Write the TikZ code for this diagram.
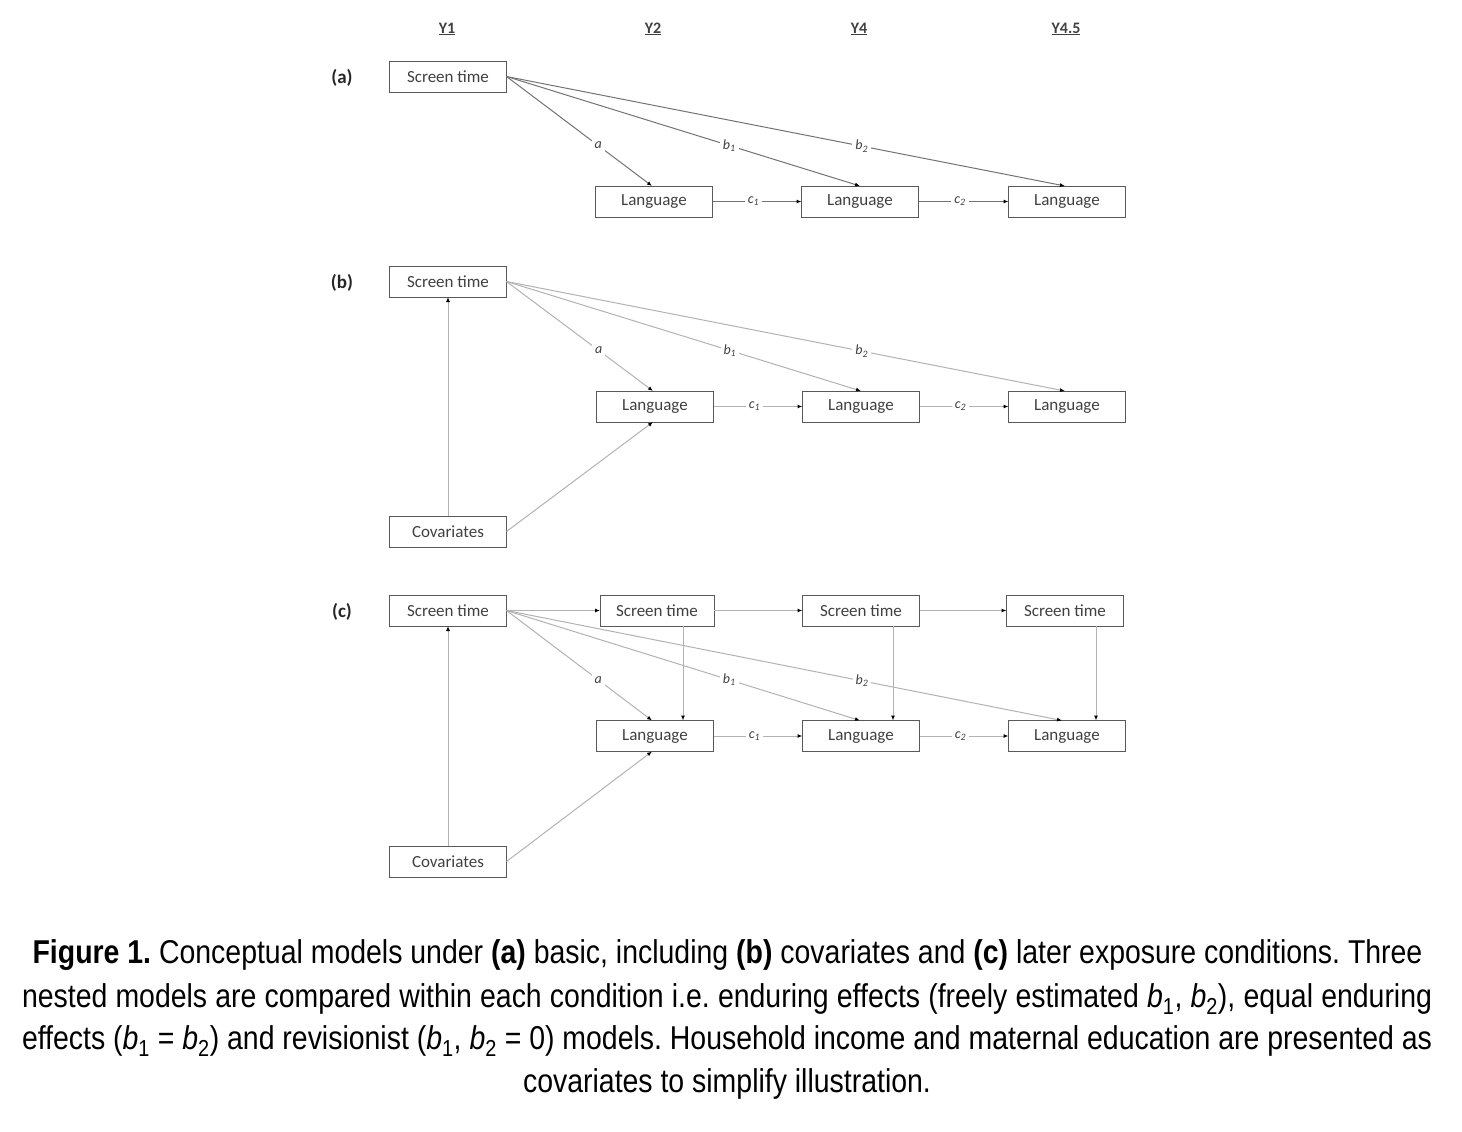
\documentclass[tikz,border=0pt]{standalone}
\usepackage{fontspec}
\setmainfont{Carlito}
\newfontfamily\capfont[FakeStretch=0.862]{Liberation Sans}
\usetikzlibrary{arrows.meta,calc}
\begin{document}
\frenchspacing
\begin{tikzpicture}[x=1pt,y=-1pt,
  box/.style={draw=black!65,line width=0.9pt,minimum width=117pt,minimum height=31pt,inner sep=0pt,outer sep=0pt,font=\fontsize{17}{19}\selectfont,text=black!75},
  arrA/.style={draw=black!55,line width=1pt,-{Latex[length=5pt,width=4pt,color=black]}},
  arrB/.style={draw=black!30,line width=1pt,-{Latex[length=5pt,width=4pt,color=black]}},
  lab/.style={fill=white,inner sep=3pt,font=\fontsize{14}{16}\selectfont\itshape,text=black!75},
  hdr/.style={font=\fontsize{16}{18}\selectfont\bfseries,text=black!75},
  plab/.style={font=\fontsize{19}{21}\selectfont\bfseries,text=black!85},
  capline/.style={anchor=base,inner sep=0pt,font=\capfont\fontsize{33}{38}\selectfont}
]
\useasboundingbox (0,0) rectangle (1462,1132);
% header
\node[hdr] (y1) at (447,29) {\underline{Y1}};
\node[hdr] (y2) at (653,29) {\underline{Y2}};
\node[hdr] (y4) at (859,29) {\underline{Y4}};
\node[hdr] (y45) at (1066,29) {\underline{Y4.5}};
% panel labels
\node[plab] (pa) at (342,78) {(a)};
\node[plab] (pb) at (342,283) {(b)};
\node[plab] (pc) at (342,612) {(c)};
% ---------- panel a
\node[box] (Sa) at (448,76.5) {Screen time};
\node[box] (La1) at (654,201.5) {Language};
\node[box] (La2) at (860,201.5) {Language};
\node[box] (La3) at (1067,201.5) {Language};
\draw[arrA] (Sa.east) -- node[lab,pos=0.63] (la) {a} ([xshift=-2pt]La1.north);
\draw[arrA] (Sa.east) -- node[lab,pos=0.63] (lb1) {b\textsubscript{1}} (La2.north);
\draw[arrA] (Sa.east) -- node[lab,pos=0.636] (lb2) {b\textsubscript{2}} ([xshift=-2pt]La3.north);
\draw[arrA] (La1.east) -- node[lab,pos=0.46] (lc1) {c\textsubscript{1}} (La2.west);
\draw[arrA] (La2.east) -- node[lab,pos=0.46] (lc2) {c\textsubscript{2}} (La3.west);
% ---------- panel b
\node[box] (Sb) at (448,281.5) {Screen time};
\node[box] (Lb1) at (655,406.5) {Language};
\node[box] (Lb2) at (861,406.5) {Language};
\node[box] (Lb3) at (1067,406.5) {Language};
\node[box] (Cb) at (448,531.5) {Covariates};
\draw[arrB] (Sb.east) -- node[lab,pos=0.63] (lba) {a} ([xshift=-2pt]Lb1.north);
\draw[arrB] (Sb.east) -- node[lab,pos=0.63] (lbb1) {b\textsubscript{1}} (Lb2.north);
\draw[arrB] (Sb.east) -- node[lab,pos=0.636] (lbb2) {b\textsubscript{2}} ([xshift=-2pt]Lb3.north);
\draw[arrB] (Lb1.east) -- node[lab,pos=0.46] (lbc1) {c\textsubscript{1}} (Lb2.west);
\draw[arrB] (Lb2.east) -- node[lab,pos=0.46] (lbc2) {c\textsubscript{2}} (Lb3.west);
\draw[arrB] (Cb.north) -- (Sb.south);
\draw[arrB] (Cb.east) -- ([xshift=-2pt]Lb1.south);
% ---------- panel c
\node[box] (Sc1) at (448,610.5) {Screen time};
\node[box,minimum width=114pt] (Sc2) at (657,610.5) {Screen time};
\node[box] (Sc3) at (861,610.5) {Screen time};
\node[box] (Sc4) at (1065,610.5) {Screen time};
\node[box] (Lc1) at (655,736) {Language};
\node[box] (Lc2) at (861,736) {Language};
\node[box] (Lc3) at (1067,736) {Language};
\node[box] (Cc) at (448,861.5) {Covariates};
\draw[arrB] (Sc1.east) -- (Sc2.west);
\draw[arrB] (Sc2.east) -- (Sc3.west);
\draw[arrB] (Sc3.east) -- (Sc4.west);
\draw[arrB] ([xshift=26pt]Sc2.south) -- ([xshift=26pt]Sc2.south |- Lc1.north);
\draw[arrB] ([xshift=32pt]Sc3.south) -- ([xshift=32pt]Sc3.south |- Lc2.north);
\draw[arrB] ([xshift=31pt]Sc4.south) -- ([xshift=31pt]Sc4.south |- Lc3.north);
\draw[arrB] (Sc1.east) -- node[lab,pos=0.63] (lca) {a} ([xshift=-3pt]Lc1.north);
\draw[arrB] (Sc1.east) -- node[lab,pos=0.63] (lcb1) {b\textsubscript{1}} ([xshift=-1pt]Lc2.north);
\draw[arrB] (Sc1.east) -- node[lab,pos=0.64] (lcb2) {b\textsubscript{2}} ([xshift=-5pt]Lc3.north);
\draw[arrB] (Lc1.east) -- node[lab,pos=0.46] (lcc1) {c\textsubscript{1}} (Lc2.west);
\draw[arrB] (Lc2.east) -- node[lab,pos=0.46] (lcc2) {c\textsubscript{2}} (Lc3.west);
\draw[arrB] (Cc.north) -- (Sc1.south);
\draw[arrB] (Cc.east) -- ([xshift=-3pt]Lc1.south);
% ---------- caption
\node[capline] (cap1) at (727.5,963) {\textbf{Figure 1.} Conceptual models under \textbf{(a)} basic, including \textbf{(b)} covariates and \textbf{(c)} later exposure conditions. Three};
\node[capline] (cap2) at (727,1007) {\makebox[1410pt][s]{nested models are compared within each condition i.e. enduring effects (freely estimated \textit{b}\textsubscript{1}, \textit{b}\textsubscript{2}), equal enduring}};
\node[capline] (cap3) at (727,1049) {\makebox[1410pt][s]{effects (\textit{b}\textsubscript{1} = \textit{b}\textsubscript{2}) and revisionist (\textit{b}\textsubscript{1}, \textit{b}\textsubscript{2} = 0) models. Household income and maternal education are presented as}};
\node[capline] (cap4) at (727,1092) {covariates to simplify illustration.};
\end{tikzpicture}
\end{document}
